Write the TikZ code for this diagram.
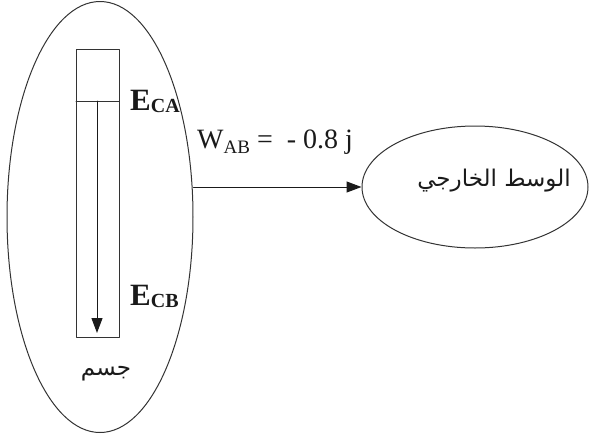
\documentclass[tikz,border=0pt]{standalone}
\usepackage{fontspec}
\setmainfont{Liberation Serif}
\newfontfamily\arabicfont[Script=Arabic]{DejaVu Sans}
\TeXXeTstate=1
\usetikzlibrary{arrows.meta,calc,positioning,shapes.geometric}
\definecolor{enInk}{HTML}{1A1A1A}
\definecolor{enLine}{HTML}{333333}
\tikzset{
 energy/.style={line cap=round,line join=round,text=enInk},
 blob/.style={ellipse,draw=enLine,line width=1pt,inner sep=0pt},
 bar/.style={rectangle,draw=enLine,line width=1pt,inner sep=0pt},
 flow/.style={draw=enInk,line width=1pt,-{Triangle[length=15pt,width=11pt]}},
 elabel/.style={anchor=base west,inner sep=0pt},
 arlabel/.style={font=\arabicfont\fontsize{23}{23}\selectfont,inner sep=0pt}
}
\newcommand{\enLevel}[1]{%
 {\fontsize{31}{31}\selectfont\bfseries E}\raisebox{-2.5pt}{\fontsize{20}{20}\selectfont\bfseries #1}}

\begin{document}
\begin{tikzpicture}[energy,x=1pt,y=-1pt]
 \useasboundingbox (0,0) rectangle (590,437);
 % system and surroundings
 \node[blob,minimum width=186pt,minimum height=431pt] (body) at (100,217) {};
 \node[blob,minimum width=226pt,minimum height=122pt] (env) at (475,187) {};
 \node[arlabel] (envtxt) at (494,181) {\beginR الوسط الخارجي\endR};
 \node[arlabel] (bodytxt) at (106,374) {\beginR جسم\endR};
 % energy column
 \node[bar,minimum width=43pt,minimum height=288pt] (col) at (97.5,193) {};
 \coordinate (lvlL) at (76,101); \coordinate (lvlR) at (119,101);
 \draw[enLine,line width=1pt] (lvlL)--(lvlR);
 \coordinate (top) at (97,101); \coordinate (tip) at (97,333);
 \draw[flow] (top)--(tip);
 \node[elabel] (eca) at (130,110) {\enLevel{CA}};
 \node[elabel] (ecb) at (130,305) {\enLevel{CB}};
 % work transfer
 \draw[flow] (env.west -| body.east) -- (env.west);
 \node[elabel] (work) at (197,148) {\fontsize{28}{28}\selectfont W\raisebox{-5pt}{\fontsize{19}{19}\selectfont AB} =\ \ - 0.8 j};
\end{tikzpicture}
\end{document}
